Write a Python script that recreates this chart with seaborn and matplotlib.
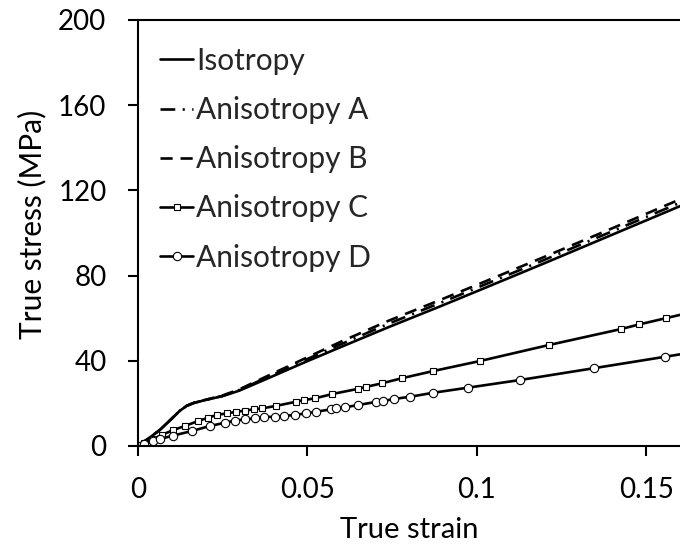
import matplotlib
matplotlib.use("Agg")
import matplotlib.pyplot as plt
import pandas as pd
import seaborn as sns

# %% data
strain_iso = [0, 0.003, 0.0065, 0.0095, 0.0124, 0.0145, 0.0165, 0.020, 0.025, 0.030,
              0.037, 0.050, 0.060, 0.074, 0.089, 0.100, 0.120, 0.140, 0.160]
stress_iso = [0, 3.3, 7.5, 12.0, 16.5, 18.9, 20.2, 21.6, 23.4, 26.0,
              30.8, 39.8, 46.5, 55.8, 65.4, 72.6, 85.8, 99.2, 112.6]
stress_aniso_a = [0, 3.3, 7.5, 12.0, 16.5, 18.9, 20.2, 21.6, 23.5, 26.3,
                  31.4, 40.8, 47.8, 57.4, 67.0, 74.2, 87.4, 100.8, 114.2]
stress_aniso_b = [0, 3.3, 7.5, 12.0, 16.5, 18.9, 20.2, 21.7, 23.7, 26.6,
                  31.9, 41.6, 49.0, 58.8, 68.4, 75.6, 88.8, 102.2, 115.8]

strain_aniso_c = [0, 0.002, 0.0045, 0.0071, 0.0105, 0.0139, 0.0178, 0.0208, 0.0234, 0.0262,
                  0.0289, 0.0316, 0.0342, 0.0368, 0.0407, 0.0468, 0.0492, 0.0524, 0.0574, 0.0649,
                  0.0675, 0.0720, 0.0779, 0.0872, 0.1010, 0.1213, 0.1426, 0.1480, 0.1558, 0.1650]
stress_aniso_c = [0, 1.3, 3.2, 5.2, 7.5, 9.4, 11.7, 13.3, 14.6, 15.3,
                  16.0, 16.6, 17.2, 17.7, 18.8, 20.8, 21.6, 22.4, 24.4, 26.8,
                  27.8, 29.4, 31.8, 35.2, 39.9, 47.4, 54.9, 57.1, 60.0, 63.4]

strain_aniso_d = [0, 0.002, 0.0046, 0.0066, 0.0105, 0.0159, 0.0213, 0.0257, 0.0286, 0.0316,
                  0.0345, 0.0374, 0.0404, 0.0433, 0.0463, 0.0497, 0.0526, 0.0571, 0.0585, 0.0613,
                  0.0649, 0.0703, 0.0724, 0.0757, 0.0803, 0.0872, 0.0975, 0.1129, 0.1345, 0.1556,
                  0.1650]
stress_aniso_d = [0, 1.0, 2.3, 3.3, 4.9, 7.0, 9.4, 10.9, 11.9, 12.5,
                  13.0, 13.5, 13.8, 14.1, 14.6, 15.3, 16.1, 17.2, 17.7, 18.2,
                  19.2, 20.7, 21.1, 22.1, 23.1, 25.0, 27.4, 31.0, 36.5, 41.9,
                  44.3]

# %% plot
sns.set_style("ticks")
plt.rcParams["font.family"] = ["Lato", "DejaVu Sans"]

fig = plt.figure(figsize=(6.8, 5.46), dpi=100)
ax = fig.add_axes([137.7 / 680, 100 / 546, 1 - 137.7 / 680, 426 / 546])

lw = 1.9
sns.lineplot(x=strain_iso, y=stress_iso, ax=ax, color="black", lw=lw,
             label="Isotropy")
sns.lineplot(x=strain_iso, y=stress_aniso_a, ax=ax, color="black", lw=lw,
             linestyle=(0, (5.6, 2.8, 0.8, 2.8)), label="Anisotropy A")
sns.lineplot(x=strain_iso, y=stress_aniso_b, ax=ax, color="black", lw=lw,
             linestyle=(0, (4.6, 3.0)), label="Anisotropy B")
sns.lineplot(x=strain_aniso_c, y=stress_aniso_c, ax=ax, color="black", lw=lw,
             marker="s", markersize=5, markerfacecolor="white",
             markeredgecolor="black", markeredgewidth=0.8, label="Anisotropy C")
sns.lineplot(x=strain_aniso_d, y=stress_aniso_d, ax=ax, color="black", lw=lw,
             marker="o", markersize=6, markerfacecolor="white",
             markeredgecolor="black", markeredgewidth=0.8, label="Anisotropy D")

ax.set_xlim(0, 0.16)
ax.set_ylim(0, 200)
ax.set_xticks([0, 0.05, 0.1, 0.15])
ax.set_xticklabels(["0", "0.05", "0.1", "0.15"])
ax.set_yticks([0, 40, 80, 120, 160, 200])

ax.spines["right"].set_visible(False)
for side in ["left", "bottom", "top"]:
    ax.spines[side].set_linewidth(1.5)
    ax.spines[side].set_color("black")
ax.tick_params(axis="both", direction="out", length=7.5, width=1.5,
               color="black", labelsize=20, pad=15, labelcolor="black")

ax.set_xlabel("True strain", fontsize=21, color="black")
ax.set_ylabel("True stress (MPa)", fontsize=21.5, color="black")
ax.xaxis.set_label_coords(0.5, -0.166)
ax.yaxis.set_label_coords(-0.169, 0.52)

ax.legend(loc="upper left", bbox_to_anchor=(0.042, 0.937), frameon=False,
          fontsize=21.5, handlelength=1.1, handletextpad=0.1, labelspacing=0.71,
          borderaxespad=0, borderpad=0, numpoints=1)

fig.savefig("out.png", dpi=100)
